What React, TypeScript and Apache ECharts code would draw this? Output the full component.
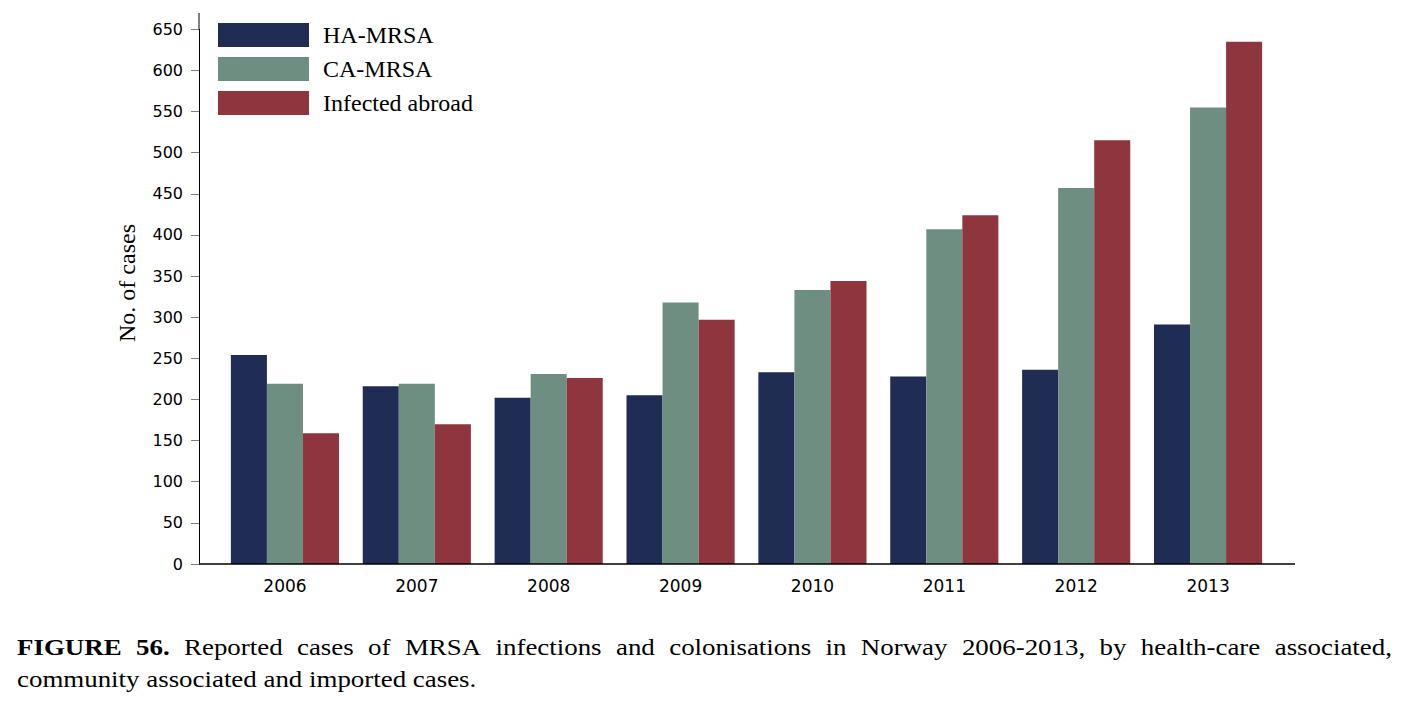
import React, { useEffect, useRef } from 'react';
import * as echarts from 'echarts';

const years = ['2006', '2007', '2008', '2009', '2010', '2011', '2012', '2013'];
const haMrsa = [254, 216, 202, 205, 233, 228, 236, 291];
const caMrsa = [219, 219, 231, 318, 333, 407, 457, 555];
const infectedAbroad = [159, 170, 226, 297, 344, 424, 515, 635];
const seriesNames = ['HA-MRSA', 'CA-MRSA', 'Infected abroad'];
const seriesColors = ['#1f2d55', '#6f8e82', '#8e353d'];
const yMin = 0;
const yMax = 650;
const yInterval = 50;
const yTitle = 'No. of cases';
const captionLine1 = ['FIGURE', '56.', 'Reported', 'cases', 'of', 'MRSA', 'infections', 'and', 'colonisations', 'in', 'Norway', '2006-2013,', 'by', 'health-care', 'associated,'];
const captionBoldCount = 2;
const captionLine2 = 'community associated and imported cases.';

const SERIF = '"Liberation Serif", "Times New Roman", serif';
const SANS = '"DejaVu Sans", sans-serif';

export default function App() {
  const ref = useRef<HTMLDivElement>(null);
  useEffect(() => {
    document.body.style.margin = '0';
    if (!ref.current) return;
    const chart = echarts.init(ref.current, undefined, { renderer: 'svg' });

    // caption justification
    const capSize = 23;
    const capScale = 1.17;
    const capLeft = 17;
    const capRight = 1392;
    const canvas = document.createElement('canvas');
    const ctx = canvas.getContext('2d')!;
    const widths = captionLine1.map((w, i) => {
      ctx.font = `${i < captionBoldCount ? 'bold ' : ''}${capSize}px "Liberation Serif"`;
      return ctx.measureText(w).width * capScale;
    });
    const total = widths.reduce((a, b) => a + b, 0);
    const gap = (capRight - capLeft - total) / (captionLine1.length - 1);
    let cx = capLeft;
    const captionEls: any[] = captionLine1.map((w, i) => {
      const el = {
        type: 'text',
        x: cx,
        y: 647,
        scaleX: capScale,
        style: {
          text: w,
          fontSize: capSize,
          fontFamily: SERIF,
          fontWeight: i < captionBoldCount ? 'bold' : 'normal',
          fill: '#000',
          align: 'left',
          verticalAlign: 'middle',
        },
      };
      cx += widths[i] + gap;
      return el;
    });
    captionEls.push({
      type: 'text',
      x: capLeft,
      y: 679.5,
      scaleX: capScale,
      style: {
        text: captionLine2,
        fontSize: capSize,
        fontFamily: SERIF,
        fill: '#000',
        align: 'left',
        verticalAlign: 'middle',
      },
    });

    const seriesData = [haMrsa, caMrsa, infectedAbroad];

    chart.setOption({
      animation: false,
      backgroundColor: '#fff',
      grid: { left: 219, right: 127, top: 29.3, bottom: 137, containLabel: false },
      legend: {
        orient: 'vertical',
        left: 213,
        top: 18,
        itemWidth: 91,
        itemHeight: 24,
        itemGap: 10,
        icon: 'rect',
        data: seriesNames,
        textStyle: {
          fontFamily: SERIF,
          fontSize: 24,
          color: '#000',
          lineHeight: 24,
          padding: [0, 0, 0, 9],
        },
      },
      xAxis: {
        type: 'category',
        data: years,
        axisLine: { show: false },
        axisTick: { show: false },
        axisLabel: { fontFamily: SANS, fontSize: 17, color: '#000', margin: 13 },
      },
      yAxis: {
        type: 'value',
        min: yMin,
        max: yMax,
        interval: yInterval,
        offset: 20,
        axisLine: { show: true, lineStyle: { color: '#000', width: 1 } },
        axisTick: { show: true, length: 8, lineStyle: { color: '#808080', width: 1 } },
        axisLabel: { fontFamily: SANS, fontSize: 16, color: '#000', margin: 16 },
        splitLine: { show: false },
      },
      series: seriesNames.map((name, i) => ({
        name,
        type: 'bar',
        data: seriesData[i],
        barGap: '0%',
        barCategoryGap: '18%',
        itemStyle: { color: seriesColors[i] },
      })),
      graphic: [
        {
          type: 'line',
          shape: { x1: 199, y1: 564, x2: 1295, y2: 564 },
          style: { stroke: '#000', lineWidth: 1.5 },
          z: 100,
        },
        {
          type: 'line',
          shape: { x1: 199, y1: 13, x2: 199, y2: 29.5 },
          style: { stroke: '#000', lineWidth: 1 },
          z: 100,
        },
        {
          type: 'text',
          x: 127,
          y: 283,
          rotation: Math.PI / 2,
          style: {
            text: yTitle,
            fontSize: 24,
            fontFamily: SERIF,
            fill: '#000',
            align: 'center',
            verticalAlign: 'middle',
          },
        },
        ...captionEls,
      ],
    });
    return () => chart.dispose();
  }, []);
  return <div ref={ref} style={{ width: 1401, height: 701 }} />;
}
